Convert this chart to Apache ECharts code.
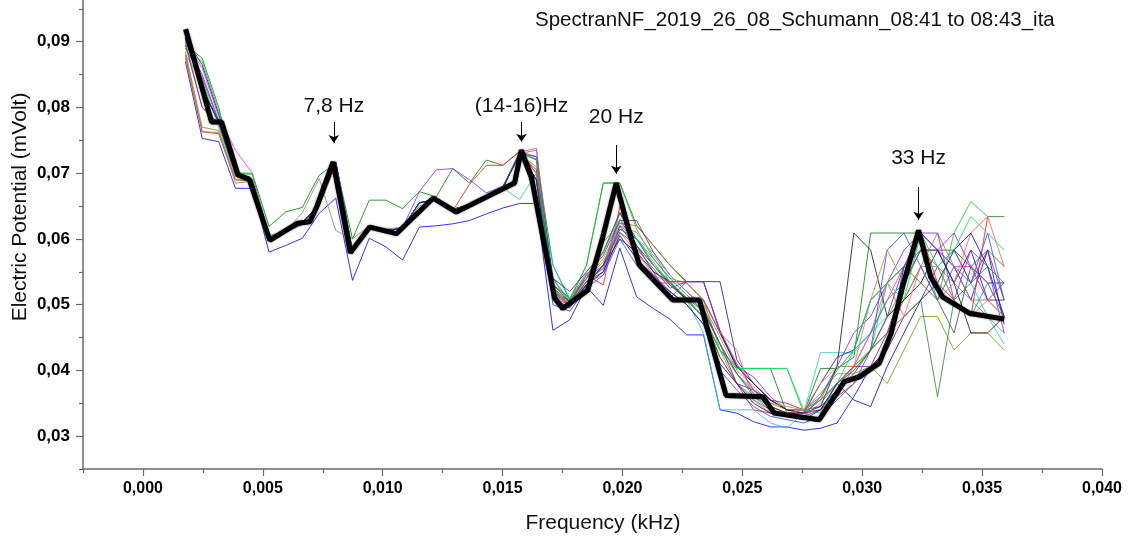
<!DOCTYPE html>
<html>
<head>
<meta charset="utf-8">
<script src="https://cdn.jsdelivr.net/npm/echarts@6/dist/echarts.min.js"></script>
<style>
  html, body { margin: 0; padding: 0; background: #fff; }
  #main { width: 1129px; height: 539px; }
</style>
</head>
<body>
<div id="main"></div>
<script>
// frequency bins of the single spectra (kHz)
var freq = [0.00177, 0.00247, 0.00316, 0.00386, 0.00456, 0.00526, 0.00595, 0.00665, 0.00735, 0.00804,
            0.00874, 0.00944, 0.01013, 0.01083, 0.01153, 0.01223, 0.01292, 0.01362, 0.01432, 0.01501,
            0.01571, 0.01641, 0.01710, 0.01780, 0.01850, 0.01920, 0.01989, 0.02059, 0.02129, 0.02198,
            0.02268, 0.02338, 0.02407, 0.02477, 0.02547, 0.02617, 0.02686, 0.02756, 0.02826, 0.02895,
            0.02965, 0.03035, 0.03104, 0.03174, 0.03244, 0.03314, 0.03383, 0.03453, 0.03523, 0.03592];

// single spectra (mVolt)
var sGreen = [0.0895,0.0875,0.0800,0.0700,0.0700,0.0619,0.0641,0.0648,0.0697,0.0715,0.0600,0.0659,0.0659,0.0646,0.0672,0.0664,0.0707,0.0685,0.0720,0.0712,0.0733,0.0725,
              0.0560,0.0507,0.0560,0.0685,0.0685,0.0621,0.0590,0.0560,0.0535,0.0535,0.0460,0.0403,0.0403,
              0.0403,0.0335,0.0335,0.0403,0.0403,
              0.0420,0.0609,0.0609,0.0609,0.0609,0.0583,0.0583,0.0558,0.0583,0.0558];
var sBlue = [0.0870,0.0753,0.0748,0.0677,0.0677,0.0580,0.0590,0.0601,0.0639,0.0662,0.0537,0.0601,0.0588,0.0568,0.0618,0.0620,0.0623,0.0628,0.0638,0.0647,0.0654,0.0654,
             0.0461,0.0477,0.0527,0.0499,0.0586,0.0512,0.0494,0.0478,0.0454,0.0454,0.0340,0.0335,0.0322,
             0.0314,0.0314,0.0309,0.0312,0.0320,
             0.0360,0.0405,0.0431,0.0558,0.0609,0.0583,0.0558,0.0507,0.0583,0.0470];
var sGray = [0.0900,0.0800,0.0775,0.0705,0.0690,0.0600,0.0612,0.0640,0.0692,0.0613,0.0600,0.0620,0.0615,0.0618,0.0650,0.0660,0.0645,0.0650,0.0665,0.0680,0.0725,0.0690,
             0.0540,0.0500,0.0530,0.0560,0.0620,0.0600,0.0560,0.0535,0.0510,0.0480,0.0430,0.0380,0.0360,
             0.0340,0.0330,0.0330,0.0350,0.0380,
             0.0400,0.0430,0.0480,0.0530,0.0583,0.0558,0.0533,0.0507,0.0482,0.0457];
var sRed = [0.0880,0.0763,0.0760,0.0690,0.0688,0.0598,0.0610,0.0622,0.0650,0.0712,0.0580,0.0618,0.0612,0.0617,0.0655,0.0660,0.0643,0.0683,0.0712,0.0712,0.0733,0.0700,
            0.0510,0.0500,0.0545,0.0530,0.0650,0.0570,0.0533,0.0533,0.0510,0.0480,0.0420,0.0380,0.0340,
            0.0335,0.0335,0.0335,0.0340,0.0360,
            0.0380,0.0405,0.0431,0.0533,0.0609,0.0533,0.0507,0.0482,0.0634,0.0634];
var sMagenta = [0.0900,0.0860,0.0786,0.0735,0.0700,0.0600,0.0612,0.0625,0.0652,0.0717,0.0580,0.0620,0.0612,0.0617,0.0655,0.0660,0.0645,0.0652,0.0665,0.0678,0.0732,0.0738,
                0.0530,0.0510,0.0548,0.0555,0.0640,0.0590,0.0560,0.0533,0.0507,0.0482,0.0431,0.0406,0.0380,
                0.0355,0.0340,0.0335,0.0340,0.0360,
                0.0406,0.0457,0.0507,0.0558,0.0609,0.0583,0.0558,0.0558,0.0533,0.0533];
var sCyan = [0.0880,0.0840,0.0770,0.0695,0.0690,0.0600,0.0610,0.0622,0.0650,0.0715,0.0582,0.0620,0.0612,0.0617,0.0655,0.0660,0.0645,0.0652,0.0665,0.0678,0.0660,0.0700,
             0.0560,0.0510,0.0530,0.0560,0.0625,0.0600,0.0580,0.0533,0.0507,0.0457,0.0340,0.0340,0.0340,
             0.0320,0.0312,0.0335,0.0427,0.0427,
             0.0427,0.0457,0.0482,0.0507,0.0558,0.0558,0.0583,0.0533,0.0482,0.0440];
var sBrown = [0.0875,0.0763,0.0762,0.0685,0.0688,0.0600,0.0612,0.0625,0.0652,0.0717,0.0580,0.0620,0.0612,0.0617,0.0655,0.0660,0.0645,0.0652,0.0665,0.0678,0.0730,0.0735,
              0.0530,0.0510,0.0540,0.0595,0.0624,0.0620,0.0590,0.0560,0.0533,0.0507,0.0457,0.0406,0.0380,
              0.0355,0.0340,0.0340,0.0355,0.0406,
              0.0406,0.0431,0.0457,0.0507,0.0558,0.0609,0.0558,0.0507,0.0507,0.0482];
var sNavy = [0.0905,0.0865,0.0790,0.0700,0.0690,0.0600,0.0612,0.0625,0.0652,0.0717,0.0580,0.0620,0.0612,0.0617,0.0655,0.0660,0.0645,0.0652,0.0665,0.0678,0.0732,0.0720,
             0.0540,0.0520,0.0550,0.0580,0.0640,0.0600,0.0560,0.0535,0.0535,0.0535,0.0535,0.0416,0.0380,
             0.0355,0.0340,0.0335,0.0380,0.0420,
             0.0431,0.0507,0.0533,0.0558,0.0583,0.0583,0.0533,0.0583,0.0507,0.0507];
var sPurple = [0.0900,0.0850,0.0780,0.0700,0.0690,0.0600,0.0612,0.0625,0.0652,0.0717,0.0582,0.0620,0.0612,0.0617,0.0672,0.0705,0.0707,0.0690,0.0670,0.0680,0.0730,0.0725,
               0.0520,0.0505,0.0540,0.0560,0.0630,0.0590,0.0550,0.0510,0.0535,0.0535,0.0457,0.0406,0.0390,
               0.0360,0.0340,0.0340,0.0360,0.0406,
               0.0457,0.0482,0.0533,0.0583,0.0609,0.0609,0.0507,0.0583,0.0558,0.0457];
var sOlive = [0.0885,0.0770,0.0765,0.0690,0.0688,0.0600,0.0612,0.0625,0.0652,0.0715,0.0582,0.0620,0.0612,0.0617,0.0655,0.0660,0.0645,0.0652,0.0665,0.0678,0.0728,0.0710,
              0.0515,0.0505,0.0540,0.0565,0.0615,0.0600,0.0565,0.0530,0.0507,0.0482,0.0431,0.0395,0.0370,
              0.0350,0.0340,0.0340,0.0365,0.0395,
              0.0395,0.0406,0.0380,0.0431,0.0482,0.0482,0.0431,0.0457,0.0457,0.0431];
var sLightGreen = [0.0890,0.0870,0.0795,0.0700,0.0698,0.0605,0.0612,0.0625,0.0652,0.0717,0.0582,0.0620,0.0612,0.0617,0.0655,0.0660,0.0645,0.0652,0.0665,0.0678,0.0730,0.0722,
                   0.0530,0.0510,0.0560,0.0685,0.0685,0.0615,0.0570,0.0540,0.0533,0.0507,0.0431,0.0403,0.0403,
                   0.0403,0.0403,0.0335,0.0355,0.0380,
                   0.0406,0.0431,0.0533,0.0558,0.0583,0.0507,0.0609,0.0657,0.0634,0.0634];
var sPlum = [0.0895,0.0800,0.0775,0.0698,0.0688,0.0600,0.0612,0.0625,0.0652,0.0717,0.0580,0.0620,0.0612,0.0617,0.0655,0.0660,0.0645,0.0652,0.0665,0.0678,0.0730,0.0705,
             0.0525,0.0505,0.0545,0.0575,0.0628,0.0628,0.0580,0.0545,0.0520,0.0495,0.0440,0.0380,0.0370,
             0.0355,0.0350,0.0340,0.0345,0.0370,
             0.0390,0.0406,0.0431,0.0482,0.0507,0.0558,0.0583,0.0533,0.0583,0.0507];
var sForest = [0.0890,0.0845,0.0778,0.0700,0.0690,0.0600,0.0612,0.0625,0.0652,0.0717,0.0580,0.0620,0.0612,0.0617,0.0655,0.0660,0.0645,0.0652,0.0665,0.0678,0.0730,0.0700,
               0.0520,0.0505,0.0540,0.0580,0.0640,0.0590,0.0550,0.0533,0.0507,0.0480,0.0420,0.0380,0.0355,
               0.0340,0.0335,0.0335,0.0355,0.0380,
               0.0400,0.0431,0.0457,0.0482,0.0507,0.0360,0.0507,0.0533,0.0558,0.0533];
var sBlackThin = [0.0915,0.0829,0.0778,0.0700,0.0688,0.0598,0.0612,0.0625,0.0652,0.0717,0.0580,0.0620,0.0612,0.0617,0.0655,0.0660,0.0643,0.0651,0.0664,0.0677,0.0730,0.0665,
                  0.0520,0.0500,0.0530,0.0560,0.0600,0.0580,0.0550,0.0535,0.0507,0.0507,0.0457,0.0406,0.0380,
                  0.0355,0.0340,0.0335,0.0345,0.0406,
                  0.0609,0.0583,0.0482,0.0507,0.0533,0.0583,0.0533,0.0457,0.0457,0.0482];
var sPink = [0.0905,0.0829,0.0778,0.0700,0.0688,0.0598,0.0612,0.0625,0.0652,0.0717,0.0580,0.0620,0.0612,0.0617,0.0655,0.0660,0.0643,0.0651,0.0664,0.0677,0.0730,0.0700,
             0.0520,0.0500,0.0535,0.0545,0.0610,0.0580,0.0545,0.0533,0.0533,0.0507,0.0457,0.0431,0.0355,
             0.0335,0.0335,0.0340,0.0355,0.0380,
             0.0406,0.0457,0.0533,0.0482,0.0558,0.0507,0.0533,0.0609,0.0634,0.0558];
var sRoyal = [0.0905,0.0829,0.0778,0.0700,0.0688,0.0598,0.0612,0.0625,0.0652,0.0717,0.0580,0.0620,0.0612,0.0617,0.0655,0.0660,0.0643,0.0651,0.0664,0.0677,0.0730,0.0690,
              0.0500,0.0490,0.0525,0.0545,0.0600,0.0560,0.0540,0.0520,0.0500,0.0470,0.0400,0.0370,0.0345,
              0.0330,0.0325,0.0320,0.0330,0.0355,
              0.0380,0.0431,0.0583,0.0609,0.0558,0.0507,0.0558,0.0533,0.0609,0.0507];
var sTeal = [0.0905,0.0829,0.0778,0.0700,0.0688,0.0598,0.0612,0.0625,0.0652,0.0717,0.0580,0.0620,0.0612,0.0617,0.0655,0.0660,0.0643,0.0651,0.0664,0.0677,0.0730,0.0690,
             0.0540,0.0505,0.0535,0.0555,0.0615,0.0600,0.0570,0.0540,0.0515,0.0490,0.0440,0.0395,0.0360,
             0.0345,0.0335,0.0330,0.0360,0.0400,
             0.0431,0.0457,0.0507,0.0533,0.0583,0.0558,0.0507,0.0482,0.0533,0.0533];
var sTan = [0.0905,0.0829,0.0778,0.0700,0.0688,0.0598,0.0612,0.0625,0.0652,0.0717,0.0580,0.0620,0.0612,0.0617,0.0655,0.0660,0.0643,0.0651,0.0664,0.0677,0.0730,0.0690,
            0.0525,0.0500,0.0540,0.0570,0.0620,0.0610,0.0575,0.0545,0.0520,0.0500,0.0450,0.0400,0.0375,
            0.0350,0.0345,0.0340,0.0380,0.0406,
            0.0406,0.0507,0.0583,0.0533,0.0583,0.0558,0.0507,0.0482,0.0507,0.0482];
var sViolet = [0.0905,0.0829,0.0778,0.0700,0.0688,0.0598,0.0612,0.0625,0.0652,0.0717,0.0580,0.0620,0.0612,0.0617,0.0655,0.0660,0.0643,0.0651,0.0664,0.0677,0.0730,0.0690,
               0.0515,0.0500,0.0535,0.0550,0.0620,0.0585,0.0555,0.0525,0.0535,0.0535,0.0460,0.0410,0.0370,
               0.0345,0.0335,0.0335,0.0340,0.0380,
               0.0406,0.0406,0.0457,0.0533,0.0583,0.0583,0.0609,0.0558,0.0507,0.0533];
var sSlate = [0.0905,0.0829,0.0778,0.0700,0.0688,0.0598,0.0612,0.0625,0.0652,0.0717,0.0580,0.0620,0.0612,0.0617,0.0655,0.0660,0.0643,0.0651,0.0664,0.0677,0.0730,0.0690,
              0.0530,0.0505,0.0530,0.0560,0.0610,0.0590,0.0560,0.0530,0.0510,0.0490,0.0440,0.0395,0.0365,
              0.0345,0.0335,0.0330,0.0340,0.0370,
              0.0395,0.0431,0.0482,0.0558,0.0533,0.0507,0.0457,0.0558,0.0533,0.0482];
var sSpring = [0.0905,0.0829,0.0778,0.0700,0.0688,0.0598,0.0612,0.0625,0.0652,0.0717,0.0580,0.0620,0.0612,0.0617,0.0655,0.0660,0.0643,0.0651,0.0664,0.0677,0.0730,0.0690,
               0.0520,0.0510,0.0545,0.0580,0.0630,0.0600,0.0560,0.0535,0.0510,0.0480,0.0430,0.0403,0.0403,
               0.0403,0.0403,0.0340,0.0335,0.0380,
               0.0431,0.0507,0.0533,0.0507,0.0609,0.0558,0.0583,0.0634,0.0609,0.0583];
var sDeepBlue = [0.0905,0.0829,0.0778,0.0700,0.0688,0.0598,0.0612,0.0625,0.0652,0.0717,0.0580,0.0620,0.0612,0.0617,0.0655,0.0660,0.0643,0.0651,0.0664,0.0677,0.0730,0.0690,
                 0.0510,0.0495,0.0530,0.0550,0.0605,0.0570,0.0545,0.0520,0.0500,0.0470,0.0410,0.0380,0.0350,
                 0.0335,0.0330,0.0325,0.0340,0.0380,
                 0.0355,0.0345,0.0406,0.0457,0.0507,0.0533,0.0583,0.0609,0.0558,0.0482];

// averaged spectrum (thick black line)
var avgFreq = [0.00178,0.00286,0.00328,0.00397,0.00443,0.00529,0.00646,0.00696,0.00725,0.00793,
               0.00865,0.00946,0.01057,0.01210,0.01307,0.01550,0.01578,0.01620,0.01654,0.01717,
               0.01751,0.01855,0.01918,0.01974,0.02022,0.02071,0.02210,0.02321,0.02432,0.02585,
               0.02633,0.02821,0.02925,0.02988,0.03071,0.03120,0.03168,0.03235,0.03286,0.03335,
               0.03446,0.03592];
var avgValues = [0.0919,0.0778,0.0778,0.0697,0.0691,0.0598,0.0624,0.0626,0.0649,0.0717,
                 0.0579,0.0618,0.0608,0.0662,0.0641,0.0685,0.0735,0.0695,0.0629,0.0510,
                 0.0494,0.0522,0.0603,0.0685,0.0619,0.0560,0.0507,0.0507,0.0362,0.0360,
                 0.0335,0.0325,0.0383,0.0390,0.0411,0.0456,0.0527,0.0613,0.0542,0.0512,
                 0.0487,0.0478];

// tick values
var xMajor = [0, 0.005, 0.010, 0.015, 0.020, 0.025, 0.030, 0.035, 0.040];
var xMinor = [-0.0025, 0.0025, 0.0075, 0.0125, 0.0175, 0.0225, 0.0275, 0.0325, 0.0375];
var yMajor = [0.03, 0.04, 0.05, 0.06, 0.07, 0.08, 0.09];
var yMinor = [0.025, 0.035, 0.045, 0.055, 0.065, 0.075, 0.085, 0.095];

// peak annotations: label, frequency, arrow top, arrow tip
var peakLabels = ['7,8 Hz', '(14-16)Hz', '20 Hz', '33 Hz'];
var peakFreq = [0.00796, 0.01579, 0.01974, 0.03235];
var arrowTop = [0.0778, 0.0778, 0.0743, 0.0679];
var arrowTip = [0.0746, 0.0748, 0.0699, 0.0629];

var thinSeries = [sGreen, sBlue, sGray, sRed, sMagenta, sCyan, sBrown, sNavy, sPurple, sOlive, sLightGreen, sPlum, sForest, sBlackThin,
                  sPink, sRoyal, sTeal, sTan, sViolet, sSlate, sSpring, sDeepBlue];
var thinColors = ['#0a8a0a', '#1010ff', '#8c8c8c', '#ff2020', '#ff30ff', '#30c8c8', '#b07038', '#202090', '#8a2cff', '#909020', '#20c840', '#8a208a', '#3a8a3a', '#202020',
                  '#ff6060', '#3050ff', '#00a0a0', '#c09050', '#a020c0', '#505050', '#10e060', '#1010a0'];
var labelGap = [5, 5, 17, 18];

var font = 'Arial, "Liberation Sans", sans-serif';
var axisGray = '#6a6a6a';

var myChart = echarts.init(document.getElementById('main'));

var series = thinSeries.map(function (vals, i) {
    return {
        type: 'line',
        symbol: 'none',
        silent: true,
        data: vals.map(function (v, k) { return [freq[k], v]; }),
        lineStyle: { width: 1, color: thinColors[i], opacity: 0.85 },
        z: 2
    };
});

series.push({
    type: 'line',
    symbol: 'none',
    silent: true,
    data: avgValues.map(function (v, k) { return [avgFreq[k], v]; }),
    lineStyle: { width: 5, color: '#000', shadowBlur: 2, shadowColor: 'rgba(0,0,0,0.6)' },
    z: 5,
    markLine: {
        silent: true,
        symbol: ['none', 'arrow'],
        symbolSize: 8,
        lineStyle: { color: '#000', width: 1, type: 'solid' },
        data: peakLabels.map(function (txt, i) {
            return [
                { coord: [peakFreq[i], arrowTop[i]] },
                {
                    coord: [peakFreq[i], arrowTip[i]],
                    label: {
                        show: true,
                        position: 'start',
                        distance: labelGap[i],
                        formatter: txt,
                        color: '#111',
                        fontSize: 21,
                        fontFamily: font
                    }
                }
            ];
        })
    }
});

var option = {
    animation: false,
    backgroundColor: '#fff',
    title: {
        text: 'SpectranNF_2019_26_08_Schumann_08:41 to 08:43_ita',
        left: 530,
        top: 5,
        textStyle: { fontSize: 20.5, fontWeight: 'normal', color: '#111', fontFamily: font }
    },
    grid: { left: 83, right: 27, top: 0, bottom: 70 },
    xAxis: [{
        type: 'value',
        min: -0.0025,
        max: 0.040,
        axisLine: { show: true, onZero: false, lineStyle: { color: axisGray, width: 1.5 } },
        axisTick: { show: true, length: 7, customValues: xMajor, lineStyle: { color: axisGray, width: 1.2 } },
        axisLabel: {
            customValues: xMajor,
            margin: 12,
            color: '#000',
            fontSize: 16,
            fontWeight: 'bold',
            fontFamily: font,
            formatter: function (v) { return v.toFixed(3).replace('.', ','); }
        },
        splitLine: { show: false }
    }, {
        type: 'value',
        min: -0.0025,
        max: 0.040,
        position: 'bottom',
        axisLine: { show: false, onZero: false },
        axisTick: { show: true, length: 4, customValues: xMinor, lineStyle: { color: axisGray, width: 1.2 } },
        axisLabel: { show: false },
        splitLine: { show: false }
    }],
    yAxis: [{
        type: 'value',
        min: 0.025,
        max: 0.09635,
        axisLine: { show: true, onZero: false, lineStyle: { color: axisGray, width: 1.5 } },
        axisTick: { show: true, length: 7, customValues: yMajor, lineStyle: { color: axisGray, width: 1.2 } },
        axisLabel: {
            customValues: yMajor,
            margin: 13,
            color: '#000',
            fontSize: 17,
            fontWeight: 'bold',
            fontFamily: font,
            formatter: function (v) { return v.toFixed(2).replace('.', ','); }
        },
        splitLine: { show: false }
    }, {
        type: 'value',
        min: 0.025,
        max: 0.09635,
        position: 'left',
        axisLine: { show: false, onZero: false },
        axisTick: { show: true, length: 4, customValues: yMinor, lineStyle: { color: axisGray, width: 1.2 } },
        axisLabel: { show: false },
        splitLine: { show: false }
    }],
    graphic: [{
        type: 'text',
        x: 603,
        y: 523,
        style: { text: 'Frequency (kHz)', font: '21px ' + font, fill: '#111', textAlign: 'center', textVerticalAlign: 'middle' }
    }, {
        type: 'text',
        x: 20,
        y: 207,
        rotation: Math.PI / 2,
        style: { text: 'Electric Potential (mVolt)', font: '21px ' + font, fill: '#111', textAlign: 'center', textVerticalAlign: 'middle' }
    }],
    series: series
};
myChart.setOption(option);
</script>
</body>
</html>
